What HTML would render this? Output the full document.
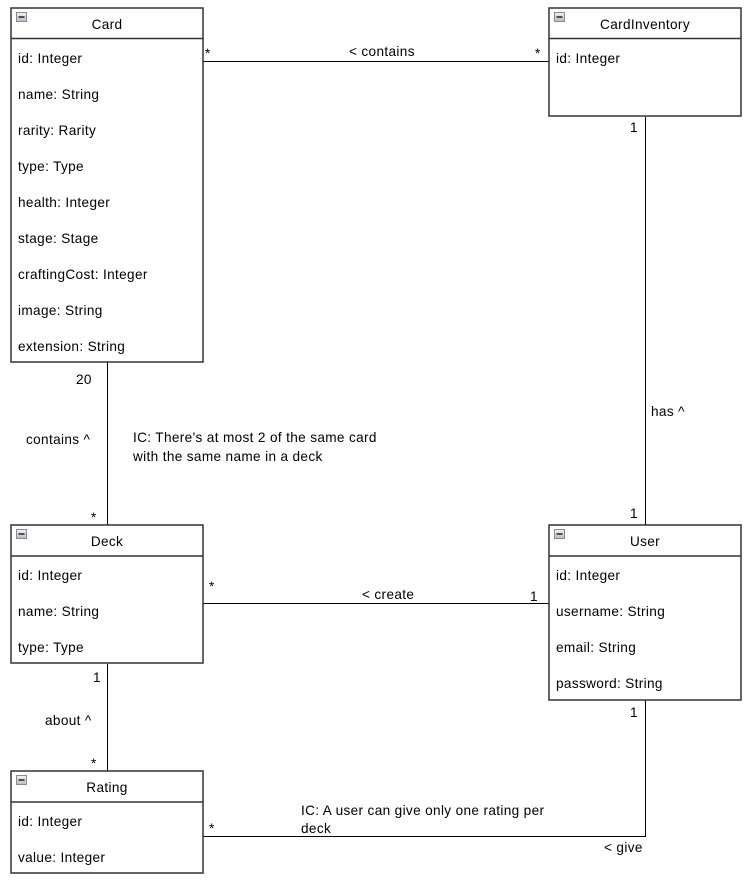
<!DOCTYPE html>
<html><head><meta charset="utf-8"><style>
html,body{margin:0;padding:0;background:#fff;}
svg{display:block;}
text{font-family:"Liberation Sans",Arial,sans-serif;font-size:13.6px;letter-spacing:0.35px;fill:#000;}
</style></head><body>
<svg width="754" height="884" viewBox="0 0 754 884" xmlns="http://www.w3.org/2000/svg">
<defs>
<linearGradient id="g" x1="0" y1="0" x2="0" y2="1"><stop offset="0" stop-color="#f4f4f4"/><stop offset="1" stop-color="#b8b8c0"/></linearGradient>
<g id="ic"><rect x="0.5" y="0.5" width="10" height="9" fill="url(#g)" stroke="#8a8a96"/><line x1="2.5" y1="5" x2="8.5" y2="5" stroke="#222" stroke-width="1.5"/></g>
</defs>
<g stroke="#000" stroke-width="1" fill="none">
<line x1="203" y1="61.5" x2="549" y2="61.5"/>
<line x1="107.5" y1="362" x2="107.5" y2="525"/>
<line x1="645.5" y1="117" x2="645.5" y2="525"/>
<line x1="203" y1="603.5" x2="549" y2="603.5"/>
<line x1="107.5" y1="664" x2="107.5" y2="771"/>
<polyline points="645.5,700 645.5,836.5 203,836.5"/>
</g>
<g stroke="#333" stroke-width="1.5" fill="#fff">
<rect x="11" y="8" width="192" height="354"/>
<line x1="11" y1="38.5" x2="203" y2="38.5"/>
<rect x="549" y="8" width="192" height="108"/>
<line x1="549" y1="38.5" x2="741" y2="38.5"/>
<rect x="11" y="525" width="192" height="138"/>
<line x1="11" y1="556" x2="203" y2="556"/>
<rect x="549" y="525" width="192" height="175"/>
<line x1="549" y1="556" x2="741" y2="556"/>
<rect x="11" y="771" width="192" height="102"/>
<line x1="11" y1="802" x2="203" y2="802"/>
</g>
<use href="#ic" x="16" y="12"/>
<use href="#ic" x="554" y="12"/>
<use href="#ic" x="16" y="529"/>
<use href="#ic" x="554" y="529"/>
<use href="#ic" x="16" y="775"/>
<g text-anchor="middle">
<text x="107" y="29">Card</text>
<text x="645" y="29">CardInventory</text>
<text x="107" y="546">Deck</text>
<text x="645" y="546">User</text>
<text x="107" y="792">Rating</text>
</g>
<text x="18" y="63">id: Integer</text>
<text x="18" y="99">name: String</text>
<text x="18" y="135">rarity: Rarity</text>
<text x="18" y="171">type: Type</text>
<text x="18" y="207">health: Integer</text>
<text x="18" y="243">stage: Stage</text>
<text x="18" y="279">craftingCost: Integer</text>
<text x="18" y="315">image: String</text>
<text x="18" y="351">extension: String</text>
<text x="556" y="63">id: Integer</text>
<text x="18" y="580">id: Integer</text>
<text x="18" y="616">name: String</text>
<text x="18" y="652">type: Type</text>
<text x="556" y="580">id: Integer</text>
<text x="556" y="616">username: String</text>
<text x="556" y="652">email: String</text>
<text x="556" y="688">password: String</text>
<text x="18" y="826">id: Integer</text>
<text x="18" y="862">value: Integer</text>
<text x="205" y="58">*</text>
<text x="349" y="56">&lt; contains</text>
<text x="535" y="58">*</text>
<text x="630" y="132">1</text>
<text x="651" y="416">has ^</text>
<text x="630" y="518">1</text>
<text x="76" y="384">20</text>
<text x="26" y="444">contains ^</text>
<text x="133" y="442">IC: There's at most 2 of the same card</text>
<text x="133" y="461">with the same name in a deck</text>
<text x="91" y="522">*</text>
<text x="209" y="591">*</text>
<text x="362" y="599">&lt; create</text>
<text x="530" y="601">1</text>
<text x="93" y="682">1</text>
<text x="45" y="725">about ^</text>
<text x="91" y="768">*</text>
<text x="630" y="717">1</text>
<text x="301" y="815">IC: A user can give only one rating per</text>
<text x="301" y="833">deck</text>
<text x="209" y="833">*</text>
<text x="604" y="852">&lt; give</text>
</svg>
</body></html>
